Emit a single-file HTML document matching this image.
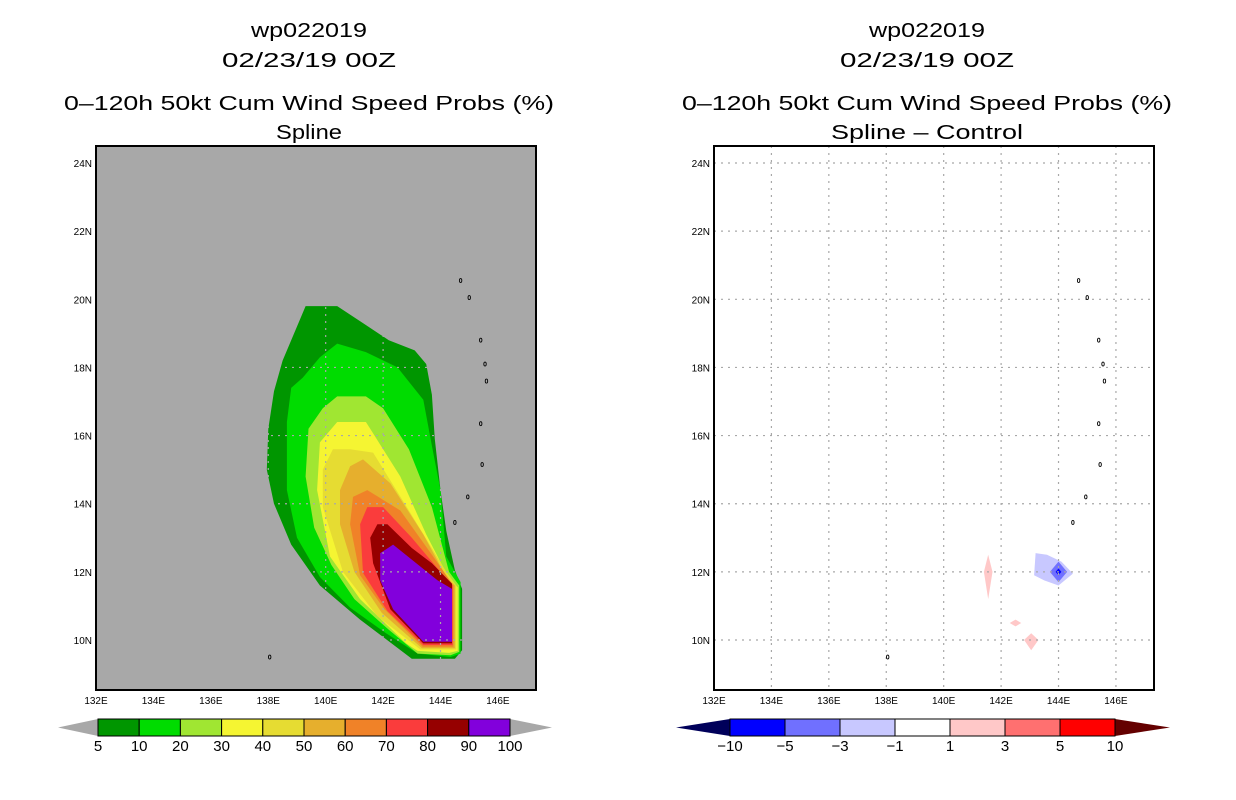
<!DOCTYPE html>
<html><head><meta charset="utf-8"><style>
body{margin:0;background:#fff;}
svg{display:block;font-family:"Liberation Sans",sans-serif;}
</style></head><body>
<svg id="s" width="1236" height="800" viewBox="0 0 1236 800">
<g font-size="20" text-anchor="middle" fill="#000">
<text x="309" y="37" textLength="116" lengthAdjust="spacingAndGlyphs">wp022019</text><text x="309" y="67" textLength="174" lengthAdjust="spacingAndGlyphs">02/23/19 00Z</text>
<text x="309" y="110" textLength="490" lengthAdjust="spacingAndGlyphs">0–120h 50kt Cum Wind Speed Probs (%)</text><text x="309" y="139" textLength="66" lengthAdjust="spacingAndGlyphs">Spline</text></g>
<g font-size="20" text-anchor="middle" fill="#000">
<text x="927" y="37" textLength="116" lengthAdjust="spacingAndGlyphs">wp022019</text><text x="927" y="67" textLength="174" lengthAdjust="spacingAndGlyphs">02/23/19 00Z</text>
<text x="927" y="110" textLength="490" lengthAdjust="spacingAndGlyphs">0–120h 50kt Cum Wind Speed Probs (%)</text><text x="927" y="139" textLength="192" lengthAdjust="spacingAndGlyphs">Spline – Control</text></g>
</svg>
<script>
const lonTicks=[132,134,136,138,140,142,144,146];
const latTicks=[10,12,14,16,18,20,22,24];
const probLevels=[5,10,20,30,40,50,60,70,80,90,100];
const probColors=['#009600','#00dc00','#a0e632','#f5f532','#e6dc32','#e6af2d','#f08228','#fa3c3c','#960000','#8200dc'];
const diffLabels=['-10','-5','-3','-1','1','3','5','10'];
const diffColors=['#0000ff','#7070ff','#c8c8ff','#ffffff','#ffc8c8','#ff7070','#ff0000'];
const c5=[[139.3,19.8],[140.4,19.8],[141.3,19.3],[142.2,18.8],[143.1,18.5],[143.5,18.1],[143.7,17.2],[143.8,15.9],[144.0,14.4],[144.2,13.2],[144.5,12.05],[144.75,11.5],[144.75,9.7],[144.5,9.45],[143.0,9.45],[141.2,10.6],[139.8,11.6],[138.8,12.8],[138.2,14.0],[137.95,15.0],[138.0,16.2],[138.2,17.3],[138.5,18.2],[138.9,19.0]];
const c10=[[140.4,18.7],[141.4,18.45],[142.5,18.0],[143.4,17.05],[143.7,15.7],[144.0,14.4],[144.2,12.45],[144.7,11.7],[144.7,9.6],[144.35,9.5],[143.2,9.6],[142.1,10.2],[140.85,10.95],[139.8,11.85],[139.0,13.0],[138.65,14.4],[138.65,16.4],[138.8,17.4],[139.2,17.7],[139.8,18.3]];
const c20=[[140.4,17.15],[141.4,17.15],[142.0,16.8],[142.9,15.6],[143.7,13.9],[144.3,12.0],[144.65,11.6],[144.65,9.65],[144.35,9.55],[143.2,9.6],[142.2,10.3],[141.0,11.2],[140.2,12.2],[139.6,13.3],[139.3,14.8],[139.4,16.2],[139.9,16.8]];
const c30=[[140.4,16.4],[141.4,16.4],[141.55,16.2],[142.6,14.8],[143.5,13.1],[144.3,11.8],[144.6,11.55],[144.6,9.68],[144.3,9.62],[143.2,9.68],[142.8,9.9],[141.2,11.2],[140.15,12.45],[139.7,14.4],[139.8,15.8]];
const c40=[[140.25,15.6],[140.85,15.6],[141.65,15.5],[142.9,13.8],[144.2,12.0],[144.55,11.6],[144.55,9.72],[143.3,9.72],[141.8,10.7],[140.6,12.0],[139.9,13.9],[139.9,15.0]];
const c50=[[140.85,15.1],[141.3,15.3],[142.25,14.6],[143.4,13.1],[144.2,11.85],[144.5,11.6],[144.5,9.76],[143.35,9.76],[141.95,10.8],[141.0,12.0],[140.5,13.4],[140.5,14.4]];
const c60=[[140.95,14.2],[141.45,14.4],[142.6,13.8],[143.7,12.5],[144.45,11.6],[144.45,9.8],[143.38,9.8],[142.05,10.9],[141.2,11.9],[140.85,13.4]];
const c70=[[141.45,13.9],[142.0,13.9],[143.0,13.0],[143.9,12.1],[144.42,11.6],[144.42,9.85],[143.4,9.85],[142.15,10.85],[141.3,11.97],[141.2,13.4]];
const c80=[[141.8,13.4],[142.15,13.4],[143.0,12.7],[143.7,12.25],[144.4,11.65],[144.4,9.9],[143.4,9.9],[142.25,10.9],[141.65,12.25],[141.55,13.0]];
const c90=[[141.9,12.55],[142.35,12.8],[143.9,11.75],[144.4,11.5],[144.4,9.95],[143.4,9.95],[142.35,10.9],[141.9,11.75]];
const probContours=[c5,c10,c20,c30,c40,c50,c60,c70,c80,c90];
const islands=[[144.7,20.55],[145.0,20.05],[145.4,18.8],[145.55,18.1],[145.6,17.6],[145.4,16.35],[145.45,15.15],[144.95,14.2],[144.5,13.45],[138.05,9.5]];
const diffPos1=[[141.55,12.5],[141.7,12.0],[141.55,11.2],[141.4,12.0]];
const diffPos2=[[142.5,10.6],[142.7,10.5],[142.5,10.4],[142.3,10.5]];
const diffPos3=[[143.05,10.2],[143.3,10.0],[143.05,9.7],[142.8,10.0]];
const diffNeg1=[[143.2,12.55],[143.6,12.5],[144.1,12.3],[144.5,11.95],[144.0,11.6],[143.5,11.75],[143.15,11.9]];
const diffNeg3=[[144.0,12.3],[144.3,12.0],[144.0,11.7],[143.7,12.0]];
const diffNeg5=[[144.0,12.1],[144.1,12.0],[144.0,11.9],[143.9,12.0]];

const NS='http://www.w3.org/2000/svg';
const svg=document.getElementById('s');
function mk(tag,attrs,parent){const e=document.createElementNS(NS,tag);for(const k in attrs)e.setAttribute(k,attrs[k]);(parent||svg).appendChild(e);return e;}
const pxPerLon=28.71, pxPerLat=34.07;
function xs(ox){return lon=>ox+(lon-132)*pxPerLon;}
function ys(lat){return 640-(lat-10)*pxPerLat;}
function poly(pts,xf,fill,parent,name){const p=mk('polygon',{points:pts.map(q=>xf(q[0]).toFixed(1)+','+ys(q[1]).toFixed(1)).join(' '),fill:fill},parent);

return p;}

function panel(ox,bg,side){
  const xf=xs(ox);
  const g=mk('g',{});
  
  
  mk('rect',{x:ox,y:146,width:440,height:544,fill:bg},g);
  return {g,xf};
}
function gridAndAxes(P,ox,side,gc){
  const {g,xf}=P;
  lonTicks.forEach(l=>{if(l>132){const l1=mk('line',{x1:xf(l),x2:xf(l),y1:146,y2:690,stroke:gc,'stroke-dasharray':'2,5','stroke-width':1.2},g);
  
  }
  const t=mk('text',{x:xf(l),y:704,'font-size':10,'text-anchor':'middle'},svg);t.textContent=l+'E';
  
  });
  latTicks.forEach(l=>{const l1=mk('line',{x1:ox,x2:ox+440,y1:ys(l),y2:ys(l),stroke:gc,'stroke-dasharray':'2,5','stroke-width':1.2},g);
  
  
  const t=mk('text',{x:ox-4,y:ys(l)+4,'font-size':10,'text-anchor':'end'},svg);t.textContent=l+'N';
  
  });
  islands.forEach(p=>{const e=mk('ellipse',{cx:xf(p[0]),cy:ys(p[1]),rx:1.2,ry:2,fill:'none',stroke:'#000','stroke-width':0.9},g);
  
  });
  const f=mk('rect',{x:ox,y:146,width:440,height:544,fill:'none',stroke:'#000','stroke-width':2},svg);
  
  
}
// left
const L=panel(96,'#a8a8a8','left');
probContours.forEach((c,i)=>poly(c,L.xf,probColors[i],L.g,'contour-'+probLevels[i]+'pct'));
gridAndAxes(L,96,'left','#a8a8a8');
// right
const R=panel(714,'#ffffff','right');
poly(diffPos1,R.xf,'#ffc8c8',R.g,'diff-pos-area');
poly(diffPos2,R.xf,'#ffc8c8',R.g,'diff-pos-area');
poly(diffPos3,R.xf,'#ffc8c8',R.g,'diff-pos-area');
poly(diffNeg1,R.xf,'#c8c8ff',R.g,'diff-neg-area');
poly(diffNeg3,R.xf,'#7070ff',R.g,'diff-neg-area');
poly(diffNeg5,R.xf,'#0000ff',R.g,'diff-neg-area');
gridAndAxes(R,714,'right','#a8a8a8');

// left colorbar
(function(){
  const g=mk('g',{});
  const x0=98,w=41.2,y0=719,h=17,n=probColors.length;
  mk('polygon',{points:`${x0},${y0} ${x0},${y0+h} 58,${y0+h/2}`,fill:'#a8a8a8'},g);
  mk('polygon',{points:`${x0+n*w},${y0} ${x0+n*w},${y0+h} 552,${y0+h/2}`,fill:'#a8a8a8'},g);
  probColors.forEach((c,i)=>{const r=mk('rect',{x:x0+i*w,y:y0,width:w,height:h,fill:c,stroke:'#000','stroke-width':1},g);
  });
  probLevels.forEach((v,i)=>{const t=mk('text',{x:x0+i*w,y:751,'font-size':15,'text-anchor':'middle'},g);t.textContent=v;
  });
})();
// right colorbar
(function(){
  const g=mk('g',{});
  const x0=730,w=55,y0=719,h=17,n=diffColors.length;
  mk('polygon',{points:`${x0},${y0} ${x0},${y0+h} 676,${y0+h/2}`,fill:'#00005a'},g);
  mk('polygon',{points:`${x0+n*w},${y0} ${x0+n*w},${y0+h} 1170,${y0+h/2}`,fill:'#640000'},g);
  diffColors.forEach((c,i)=>{const r=mk('rect',{x:x0+i*w,y:y0,width:w,height:h,fill:c,stroke:'#000','stroke-width':1},g);
  });
  diffLabels.forEach((v,i)=>{const t=mk('text',{x:x0+i*w,y:751,'font-size':15,'text-anchor':'middle'},g);t.textContent=v.replace('-','−');
  });
})();
</script>
</body></html>
